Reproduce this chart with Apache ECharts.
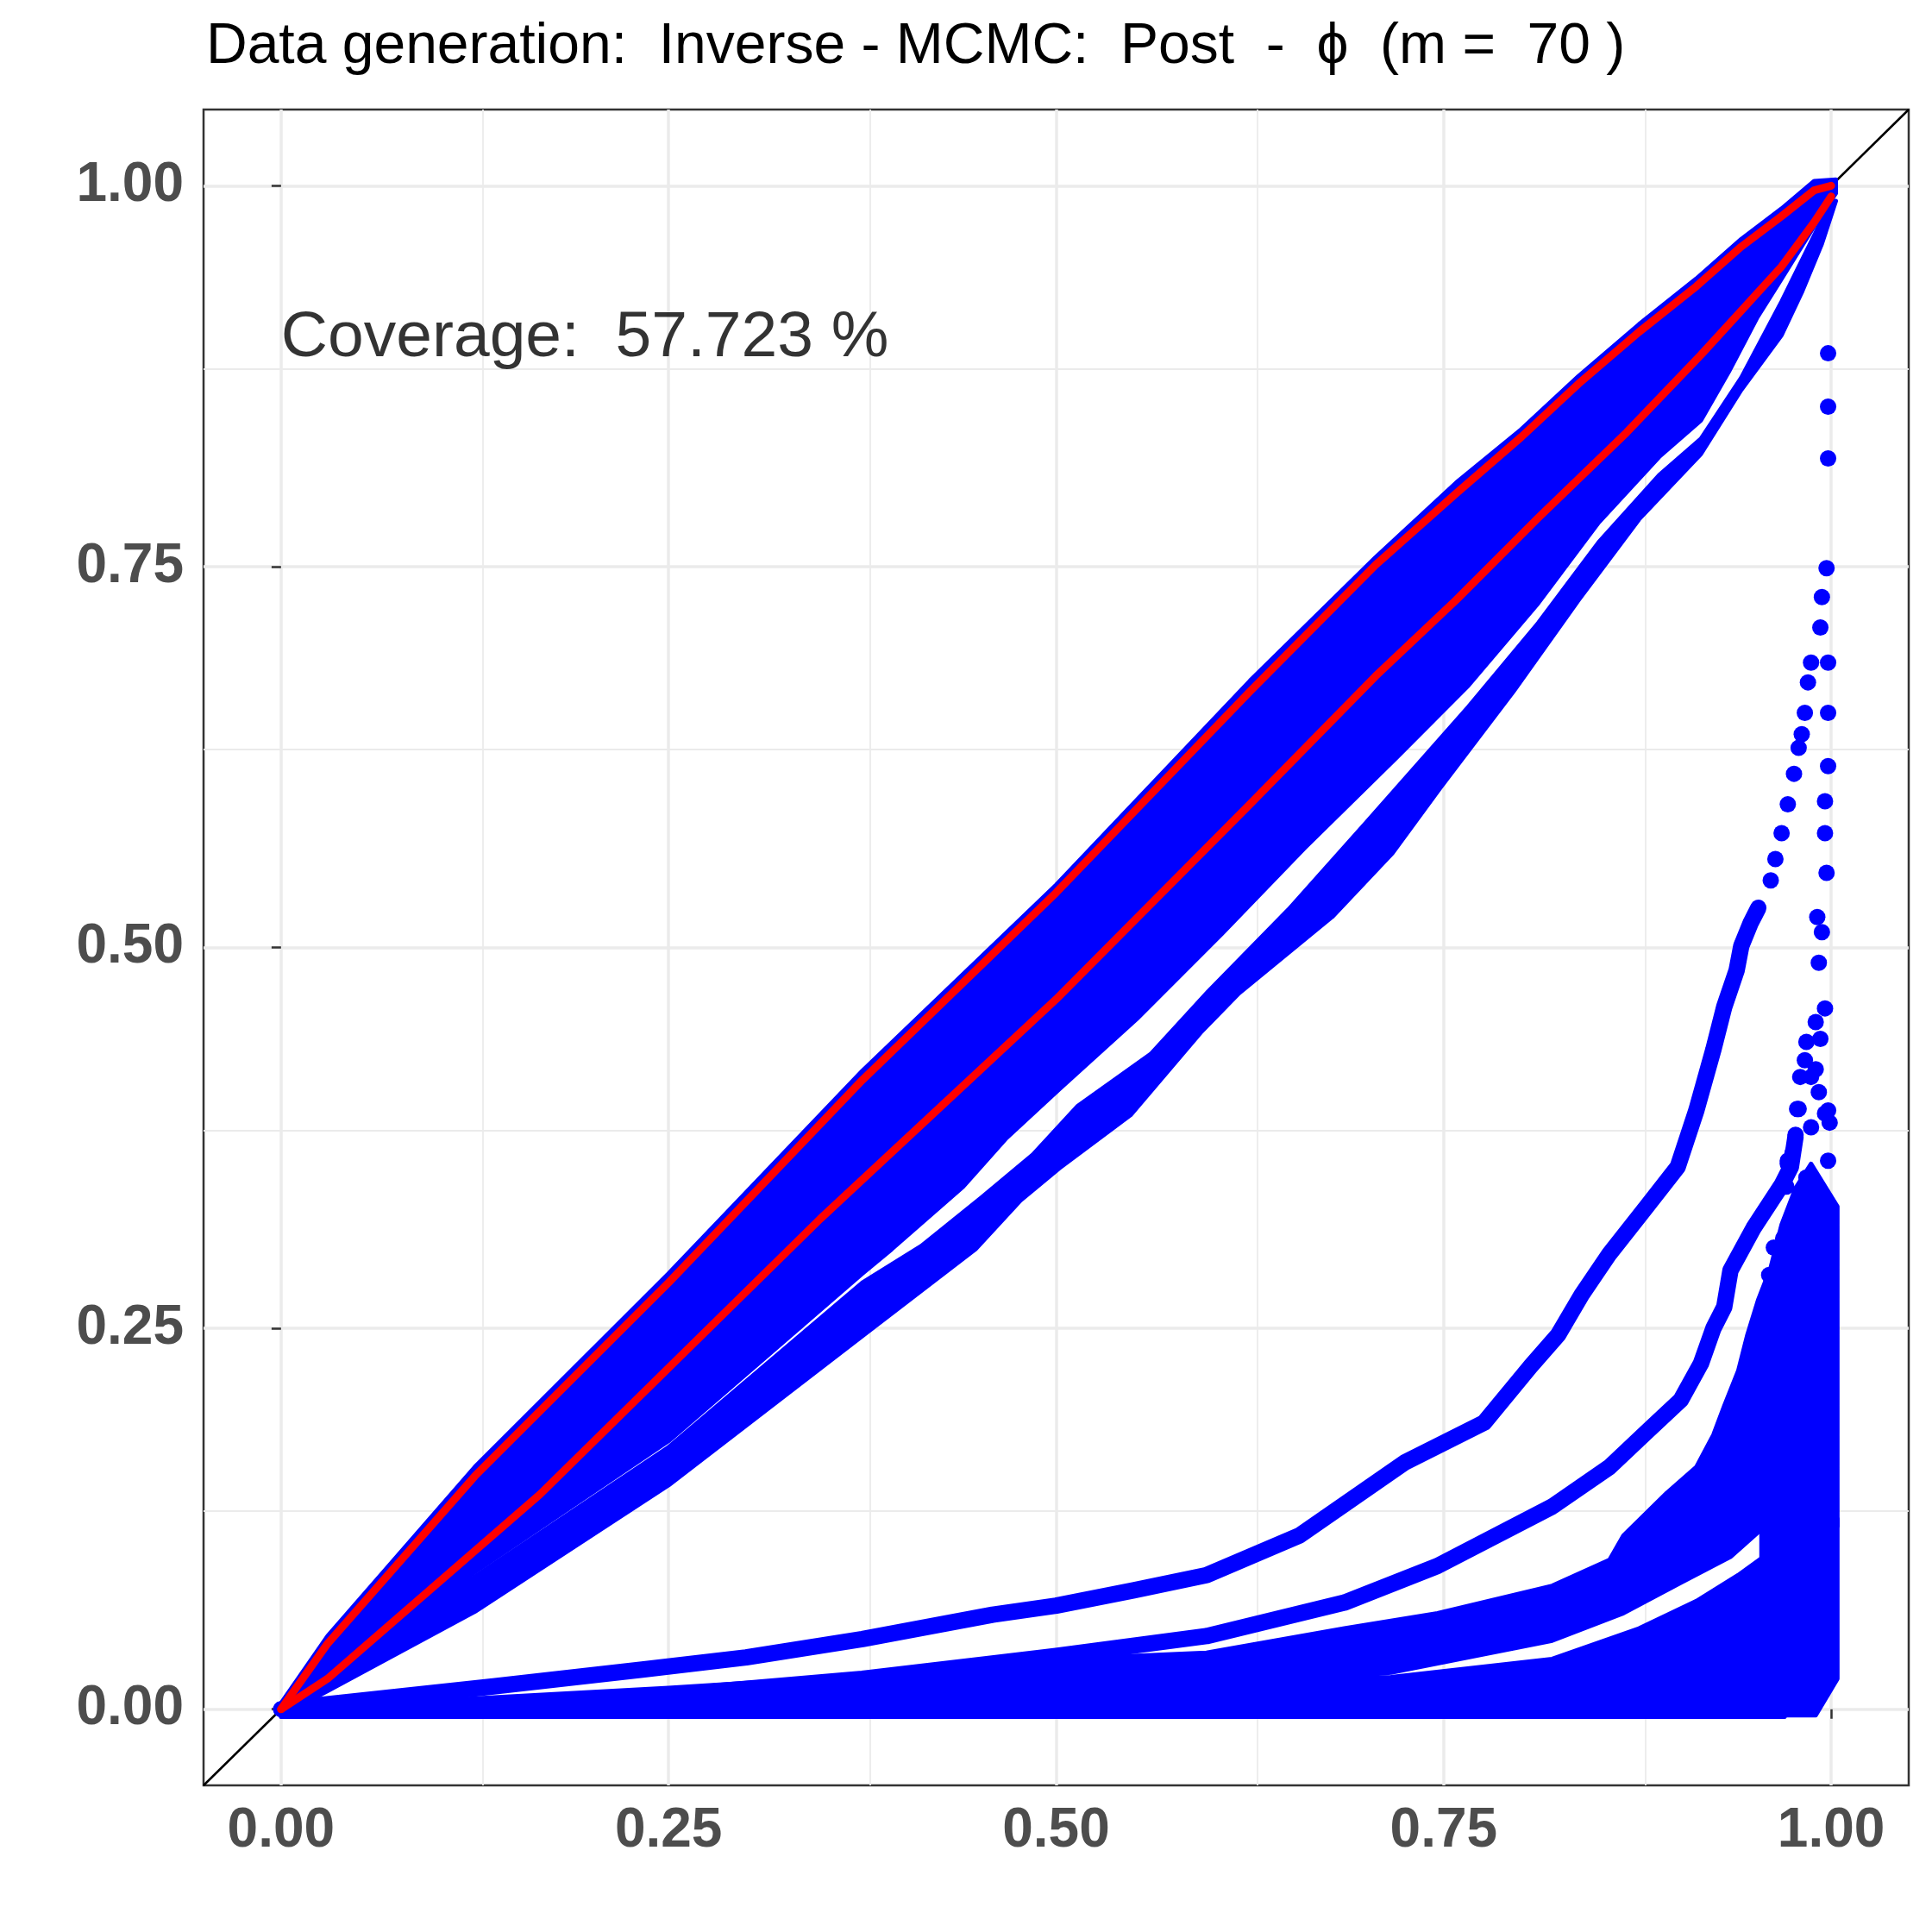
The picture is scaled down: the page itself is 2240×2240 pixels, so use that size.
<!DOCTYPE html>
<html>
<head>
<meta charset="utf-8">
<title>Inverse - MCMC PP plot</title>
<script src="https://cdn.jsdelivr.net/npm/echarts@6/dist/echarts.min.js"></script>
<style>
html, body { margin: 0; padding: 0; background: #fff; }
#main { width: 2240px; height: 2240px; }
</style>
</head>
<body>
<div id="main"></div>
<script>
// 刻度
var tickValues = [0, 0.25, 0.5, 0.75, 1];
var tickLabels = ['0.00', '0.25', '0.50', '0.75', '1.00'];
var minorValues = [0.125, 0.375, 0.625, 0.875];

var titleText = 'Data generation:  Inverse - MCMC:  Post  -  \u03d5  (m =  70 )';
var coverageText = 'Coverage:  57.723 %';
var coveragePos = [[0, 0.9]];

// y = x
var diagLine = [[-0.05, -0.05], [1.05, 1.05]];

// 主带 (上边 + 下边)
var bandUpper = [[0, 0.004], [0.03, 0.048], [0.125, 0.159], [0.25, 0.286], [0.375, 0.419], [0.5, 0.541],
  [0.625, 0.675], [0.706, 0.756], [0.758, 0.805], [0.8, 0.84], [0.837, 0.875], [0.876, 0.909],
  [0.913, 0.939], [0.942, 0.965], [0.968, 0.985], [0.989, 1.003], [1.003, 1.004]];
var bandLower = [[1.003, 0.995], [0.99, 0.975], [0.968, 0.939], [0.952, 0.913], [0.934, 0.878],
  [0.916, 0.846], [0.889, 0.822], [0.85, 0.779], [0.811, 0.726], [0.766, 0.672], [0.72, 0.625],
  [0.66, 0.565], [0.607, 0.509], [0.552, 0.453], [0.502, 0.407], [0.468, 0.375], [0.44, 0.343],
  [0.394, 0.302], [0.375, 0.286], [0.25, 0.176], [0.125, 0.09], [0.03, 0.02], [0, -0.004]];

// 主带下面的一组轨迹
var lowUpper = [[0, 0], [0.125, 0.087], [0.25, 0.172], [0.375, 0.28], [0.413, 0.304], [0.452, 0.336],
  [0.485, 0.364], [0.514, 0.396], [0.561, 0.43], [0.598, 0.471], [0.65, 0.525], [0.7, 0.582],
  [0.766, 0.658], [0.811, 0.713], [0.85, 0.766], [0.889, 0.81], [0.916, 0.834], [0.942, 0.874],
  [0.968, 0.924], [1, 0.99]];
var lowLower = [[1.003, 0.99], [0.994, 0.962], [0.981, 0.93], [0.968, 0.902], [0.942, 0.866],
  [0.916, 0.824], [0.876, 0.781], [0.837, 0.728], [0.795, 0.668], [0.748, 0.605], [0.717, 0.562],
  [0.678, 0.52], [0.618, 0.47], [0.594, 0.445], [0.548, 0.39], [0.502, 0.355], [0.477, 0.334],
  [0.448, 0.302], [0.375, 0.245], [0.25, 0.147], [0.125, 0.064], [0.03, 0.012], [0, -0.004]];

// 底部的扇形
var bottomLow = [[0, -0.005], [0, 0.003], [0.3, 0.009], [0.5, 0.014], [0.716, 0.021], [0.82, 0.033],
  [0.876, 0.053], [0.913, 0.071], [0.94, 0.088], [0.959, 0.102], [0.975, 0.115], [0.975, 0.02],
  [0.97, -0.005]];
var bottomUp = [[0, 0], [0.125, 0.007], [0.25, 0.014], [0.375, 0.022], [0.459, 0.031], [0.597, 0.037],
  [0.686, 0.053], [0.746, 0.063], [0.82, 0.081], [0.857, 0.098], [0.866, 0.114], [0.894, 0.142],
  [0.913, 0.159], [0.924, 0.18], [0.931, 0.199], [0.94, 0.222], [0.946, 0.246], [0.953, 0.269],
  [0.961, 0.29], [0.968, 0.318], [0.977, 0.342], [0.987, 0.358], [1.004, 0.33], [1.004, 0.12],
  [0.955, 0.118], [0.935, 0.1], [0.903, 0.083], [0.866, 0.063], [0.82, 0.045], [0.716, 0.024],
  [0.5, 0.005], [0, 0]];
var rightColumn = [[0.955, -0.004], [0.955, 0.125], [1.004, 0.125], [1.004, 0.02], [0.99, -0.004]];

// 单独的轨迹
var curveA = [[0, 0], [0.137, 0.015], [0.233, 0.026], [0.3, 0.034], [0.375, 0.046], [0.459, 0.062],
  [0.5, 0.068], [0.55, 0.078], [0.597, 0.088], [0.657, 0.114], [0.725, 0.162], [0.776, 0.188],
  [0.806, 0.225], [0.824, 0.246], [0.839, 0.272], [0.857, 0.299], [0.881, 0.33], [0.901, 0.356],
  [0.913, 0.393], [0.924, 0.433], [0.931, 0.461], [0.939, 0.485], [0.942, 0.501],
  [0.948, 0.516], [0.953, 0.526]];
var curveB = [[0.25, 0.009], [0.375, 0.02], [0.459, 0.03], [0.5, 0.035], [0.597, 0.048], [0.686, 0.07],
  [0.746, 0.094], [0.82, 0.133], [0.857, 0.159], [0.881, 0.182], [0.903, 0.203], [0.916, 0.227],
  [0.924, 0.25], [0.931, 0.264], [0.935, 0.288], [0.95, 0.316], [0.968, 0.344], [0.974, 0.356],
  [0.977, 0.376]];

// x 接近 1 处的散点
var sparseDots = [
  [0.961, 0.544], [0.964, 0.558], [0.968, 0.575], [0.972, 0.594], [0.976, 0.614], [0.979, 0.631],
  [0.981, 0.64], [0.983, 0.654], [0.985, 0.674], [0.987, 0.687], [0.993, 0.71], [0.994, 0.73],
  [0.997, 0.749], [0.998, 0.821], [0.998, 0.855], [0.998, 0.89],
  [0.998, 0.687], [0.998, 0.654], [0.998, 0.619], [0.996, 0.596], [0.996, 0.575], [0.997, 0.549],
  [0.991, 0.52], [0.994, 0.51], [0.992, 0.49], [0.996, 0.46], [0.99, 0.451], [0.993, 0.44],
  [0.987, 0.415], [0.992, 0.405], [0.979, 0.394], [0.998, 0.393], [0.975, 0.365], [0.998, 0.36],
  [0.972, 0.36], [0.998, 0.315], [0.998, 0.283],
  [0.984, 0.438], [0.983, 0.426], [0.99, 0.42], [0.98, 0.415], [0.978, 0.394], [0.996, 0.391],
  [0.987, 0.382], [0.977, 0.377], [0.999, 0.385], [0.972, 0.358], [0.984, 0.349], [0.971, 0.343],
  [0.985, 0.337], [0.984, 0.327], [0.996, 0.305], [0.969, 0.309], [0.963, 0.303], [0.984, 0.294],
  [0.96, 0.285], [0.996, 0.275], [0.984, 0.273], [0.957, 0.264], [0.996, 0.261], [0.993, 0.249],
  [0.996, 0.237], [0.978, 0.234], [0.993, 0.219], [0.975, 0.212], [0.993, 0.2], [0.969, 0.194],
  [0.996, 0.179], [0.981, 0.17], [0.998, 0.152], [0.993, 0.131], [0.993, 0.11], [0.998, 0.094],
  [0.998, 0.079]];

// 红色界线
var redUpper = [[0, 0], [0.03, 0.043], [0.125, 0.153], [0.25, 0.28], [0.375, 0.413], [0.5, 0.536],
  [0.625, 0.668], [0.706, 0.751], [0.758, 0.798], [0.8, 0.835], [0.837, 0.87], [0.876, 0.904],
  [0.913, 0.934], [0.942, 0.96], [0.968, 0.98], [0.989, 0.997], [1, 1]];
var redLower = [[0, 0], [0.03, 0.02], [0.167, 0.141], [0.348, 0.322], [0.5, 0.466], [0.625, 0.594],
  [0.706, 0.678], [0.758, 0.728], [0.811, 0.782], [0.868, 0.838], [0.916, 0.889], [0.942, 0.918],
  [0.968, 0.947], [0.989, 0.976], [1, 0.993]];

var BLUE = '#0000ff';
var FONT = '"Liberation Sans", Arial, sans-serif';

var polygons = [
  bandUpper.concat(bandLower),
  lowUpper.concat(lowLower),
  bottomLow,
  bottomUp,
  rightColumn
];

function blueLine(name, pts) {
  return {
    name: name,
    type: 'line',
    z: 3,
    data: pts,
    showSymbol: false,
    smooth: false,
    lineStyle: { color: BLUE, width: 19, cap: 'round', join: 'round' },
    silent: true
  };
}

function redLine(name, pts) {
  return {
    name: name,
    type: 'line',
    z: 4,
    data: pts,
    showSymbol: false,
    smooth: false,
    lineStyle: { color: '#ff0000', width: 9, cap: 'round', join: 'round' },
    silent: true
  };
}

function gridLines(values, width) {
  var d = [];
  values.forEach(function (v) {
    d.push({ xAxis: v, lineStyle: { width: width } });
    d.push({ yAxis: v, lineStyle: { width: width } });
  });
  return d;
}

var axisCommon = {
  type: 'value',
  min: -0.05,
  max: 1.05,
  axisLine: { show: false },
  splitLine: { show: false },
  axisTick: {
    show: true,
    customValues: tickValues,
    length: 11,
    lineStyle: { color: '#333333', width: 2.5 }
  },
  axisLabel: {
    customValues: tickValues,
    formatter: function (v) { return tickLabels[tickValues.indexOf(v)]; },
    fontFamily: FONT,
    fontWeight: 'bold',
    fontSize: 64,
    color: '#4d4d4d'
  }
};

var myChart = echarts.init(document.getElementById('main'), null, { renderer: 'canvas' });

var option = {
  animation: false,
  backgroundColor: '#ffffff',
  title: {
    text: titleText,
    left: 234,
    top: 17,
    textStyle: { fontFamily: FONT, fontWeight: 'normal', fontSize: 66, color: '#000000' }
  },
  grid: {
    left: 236,
    right: 27,
    top: 127,
    bottom: 170,
    show: true,
    borderColor: '#333333',
    borderWidth: 2.5,
    backgroundColor: 'transparent'
  },
  xAxis: echarts.util.merge({ axisLabel: { margin: 21 } }, axisCommon, true),
  yAxis: echarts.util.merge({ axisLabel: { margin: 23 } }, axisCommon, true),
  series: [
    {
      name: 'diag',
      type: 'line',
      z: 1,
      data: diagLine,
      showSymbol: false,
      lineStyle: { color: '#000000', width: 2.5 },
      silent: true,
      markLine: {
        silent: true,
        symbol: 'none',
        z: 0,
        label: { show: false },
        lineStyle: { color: '#ebebeb', type: 'solid' },
        data: gridLines(minorValues, 1.8).concat(gridLines(tickValues, 3.5))
      }
    },
    {
      name: 'regions',
      type: 'custom',
      z: 2,
      clip: true,
      silent: true,
      data: polygons.map(function (p, i) { return [i, 0]; }),
      renderItem: function (params, api) {
        var pts = polygons[params.dataIndex].map(function (p) { return api.coord(p); });
        return {
          type: 'polygon',
          shape: { points: pts },
          style: { fill: BLUE, stroke: BLUE, lineWidth: 5, lineJoin: 'round' }
        };
      }
    },
    blueLine('curveA', curveA),
    blueLine('curveB', curveB),
    {
      name: 'dots',
      type: 'scatter',
      z: 3,
      data: sparseDots,
      symbolSize: 19,
      itemStyle: { color: BLUE, opacity: 1 },
      silent: true
    },
    redLine('upper', redUpper),
    redLine('lower', redLower),
    {
      name: 'coverage',
      type: 'scatter',
      z: 5,
      data: coveragePos,
      symbolSize: 0,
      silent: true,
      label: {
        show: true,
        position: 'right',
        distance: 0,
        formatter: coverageText,
        fontFamily: FONT,
        fontSize: 75,
        color: '#000000',
        textBorderWidth: 0
      }
    }
  ]
};

myChart.setOption(option);
</script>
</body>
</html>
